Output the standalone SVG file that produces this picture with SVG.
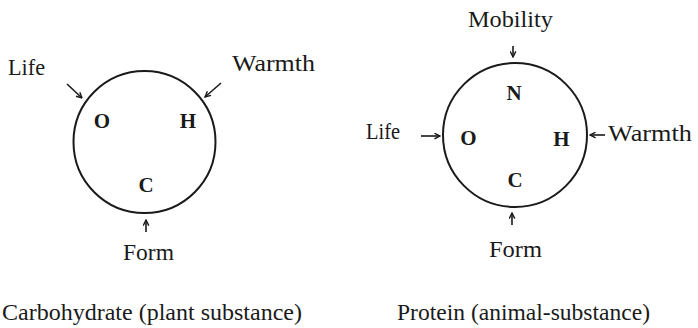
<svg xmlns="http://www.w3.org/2000/svg" width="698" height="328" viewBox="0 0 698 328">
<defs>
<style>
.lbl{font-family:"Liberation Serif","Times New Roman",serif;font-size:24px;fill:#1a1a1a}
.el{font-family:"Liberation Serif","Times New Roman",serif;font-size:21px;font-weight:bold;fill:#1a1a1a;text-anchor:middle}
.cap{font-family:"Liberation Serif","Times New Roman",serif;font-size:24px;fill:#1a1a1a}
.ring{fill:none;stroke:#1a1a1a;stroke-width:2}
.arr{fill:none;stroke:#1a1a1a;stroke-width:1.6;marker-end:url(#ah)}
</style>
<marker id="ah" viewBox="0 0 10 10" refX="9" refY="5" markerWidth="7" markerHeight="7" markerUnits="userSpaceOnUse" orient="auto">
<path d="M1,1 L9,5 L1,9" fill="none" stroke="#1a1a1a" stroke-width="2"/>
</marker>
</defs>
<rect width="698" height="328" fill="#ffffff"/>

<g id="carbohydrate">
<circle class="ring" cx="144.5" cy="142" r="71"/>
<text class="el" x="102" y="128">O</text>
<text class="el" x="188" y="128">H</text>
<text class="el" x="146" y="192">C</text>
</g>
<g id="carb-life"><text class="lbl" x="8" y="75" textLength="37" lengthAdjust="spacingAndGlyphs">Life</text></g>
<g id="carb-warmth"><text class="lbl" x="232" y="71" textLength="83" lengthAdjust="spacingAndGlyphs">Warmth</text></g>
<g id="carb-form"><text class="lbl" x="123" y="260" textLength="51" lengthAdjust="spacingAndGlyphs">Form</text></g>
<g id="carb-caption"><text class="cap" x="2" y="320" textLength="300" lengthAdjust="spacingAndGlyphs">Carbohydrate (plant substance)</text></g>

<g id="protein">
<circle class="ring" cx="515" cy="135" r="72"/>
<text class="el" x="514" y="100">N</text>
<text class="el" x="468.5" y="145">O</text>
<text class="el" x="561.5" y="146">H</text>
<text class="el" x="515" y="187">C</text>
</g>
<g id="prot-mobility"><text class="lbl" x="468" y="27" textLength="85" lengthAdjust="spacingAndGlyphs">Mobility</text></g>
<g id="prot-life"><text class="lbl" x="366" y="139" textLength="34" lengthAdjust="spacingAndGlyphs">Life</text></g>
<g id="prot-warmth"><text class="lbl" x="608" y="141" textLength="84" lengthAdjust="spacingAndGlyphs">Warmth</text></g>
<g id="prot-form"><text class="lbl" x="489" y="257" textLength="53" lengthAdjust="spacingAndGlyphs">Form</text></g>
<g id="prot-caption"><text class="cap" x="397" y="320" textLength="253" lengthAdjust="spacingAndGlyphs">Protein (animal-substance)</text></g>

<g id="connectors">
<line class="arr" x1="67" y1="84" x2="82" y2="98"/>
<line class="arr" x1="221" y1="83" x2="205" y2="97"/>
<line class="arr" x1="146" y1="232" x2="146" y2="220"/>
<line class="arr" x1="513" y1="46" x2="513" y2="57"/>
<line class="arr" x1="421" y1="136" x2="440" y2="136"/>
<line class="arr" x1="605" y1="135" x2="590" y2="135"/>
<line class="arr" x1="512" y1="225" x2="512" y2="213"/>
</g>
</svg>
